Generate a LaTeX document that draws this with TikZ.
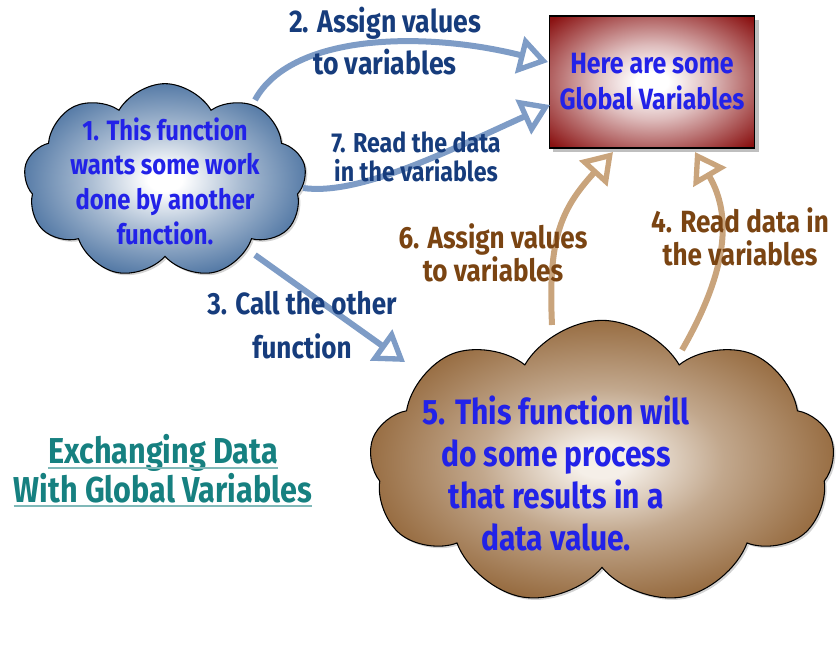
\documentclass[tikz,border=0pt]{standalone}
\usepackage{fontspec}
\setmainfont{Fira Sans}[FakeStretch=0.85]
\usetikzlibrary{shapes.symbols,arrows.meta,shadows}
\definecolor{txtblue}{HTML}{2222E8}
\definecolor{lblblue}{HTML}{163C7C}
\definecolor{lblbrown}{HTML}{7A4412}
\definecolor{lineblue}{HTML}{7E9CC6}
\definecolor{linetan}{HTML}{C9A47C}
\definecolor{cloudblue}{HTML}{3A6598}
\definecolor{cloudbrown}{HTML}{8A5A2A}
\definecolor{cloudcore}{HTML}{F5EFE8}
\definecolor{boxred}{HTML}{8A1212}
\definecolor{titleteal}{HTML}{168080}
\definecolor{ruleteal}{HTML}{7FB8B8}
\colorlet{boxmid}{boxred!28!white}
\colorlet{bluemid}{cloudblue!42!white}
\colorlet{brownmid}{cloudbrown!48!cloudcore}
% radial fills: light core, full colour near the outline (25bp = shape edge)
\pgfdeclareradialshading{boxshade}{\pgfpoint{0bp}{0bp}}{color(0bp)=(white); color(4bp)=(white); color(14bp)=(boxmid); color(34bp)=(boxred); color(50bp)=(boxred)}
\pgfdeclareradialshading{blueshade}{\pgfpoint{0bp}{0bp}}{color(0bp)=(white); color(3bp)=(white); color(13bp)=(bluemid); color(29bp)=(cloudblue); color(50bp)=(cloudblue)}
\pgfdeclareradialshading{brownshade}{\pgfpoint{0bp}{0bp}}{color(0bp)=(cloudcore); color(3bp)=(cloudcore); color(13bp)=(brownmid); color(29bp)=(cloudbrown); color(50bp)=(cloudbrown)}
\begin{document}
\begin{tikzpicture}[x=0.75pt,y=-0.75pt,
  puff/.style={cloud, cloud puffs=9, cloud puff arc=120, cloud ignores aspect,
    draw=black, line width=0.8pt, inner sep=0pt,
    drop shadow={shadow xshift=1.5pt, shadow yshift=-1.5pt, opacity=0.35}},
  flowblue/.style={draw=lineblue, line width=4.5pt,
    -{Triangle[open, length=22pt, width=28pt, line width=4pt]}},
  flowtan/.style={draw=linetan, line width=4.5pt,
    -{Triangle[open, length=22pt, width=28pt, line width=4pt]}},
  inner/.style={text=txtblue, align=center, font=\bfseries\fontsize{21}{26}\selectfont},
  lbl/.style={align=center, inner sep=0pt},
]
\useasboundingbox (0,0) rectangle (836,645);

% shapes
\node[puff, minimum width=212pt, minimum height=146pt, shading=blueshade] (caller) at (165,181) {};
\node[puff, minimum width=349pt, minimum height=214pt, shading=brownshade] (worker) at (602,463) {};
\node[draw=black, line width=0.8pt, minimum width=154pt, minimum height=99pt,
  shading=boxshade,
  drop shadow={shadow xshift=3pt, shadow yshift=-3pt, opacity=0.5}] (globals) at (652,82) {};

% anchor points on the shapes
\coordinate (c2) at (255,100);
\coordinate (c7) at (303,188);
\coordinate (c3) at (255,255);
\coordinate (g2) at (548,62);
\coordinate (g7) at (550,105);
\coordinate (g6) at (613,152);
\coordinate (g4) at (695,152);
\coordinate (w3) at (405,362);
\coordinate (w6) at (552,325);
\coordinate (w4) at (682,350);

% connectors
\draw[flowblue] (c2) .. controls (290,35) and (420,30) .. (g2);
\draw[flowblue] (c7) .. controls (360,196) and (450,150) .. (g7);
\draw[flowblue] (c3) -- (w3);
\draw[flowtan] (w6) .. controls (548,240) and (560,210) .. (g6);
\draw[flowtan] (w4) .. controls (728,270) and (732,215) .. (g4);

% texts inside the shapes
\node[inner] (callertext) at (caller.center) {1. This function\\wants some work\\done by another\\function.};
\node[inner, font=\bfseries\fontsize{22}{27}\selectfont] (globaltext) at (globals.center) {Here are some\\Global Variables};
\node[inner, font=\bfseries\fontsize{26.5}{31.5}\selectfont] (workertext) at (556,473) {5. This function will\\do some process\\that results in a\\data value.};

% connector labels
\node[lbl, text=lblblue, font=\bfseries\fontsize{23.5}{31.5}\selectfont] (l2) at (385,41) {2. Assign values\\to variables};
\node[lbl, text=lblblue, font=\bfseries\fontsize{20.5}{22}\selectfont] (l7) at (416,157) {7. Read the data\\in the variables};
\node[lbl, text=lblblue, font=\bfseries\fontsize{23}{33}\selectfont] (l3) at (302,325) {3. Call the other\\function};
\node[lbl, text=lblbrown, font=\bfseries\fontsize{23}{22.5}\selectfont] (l6) at (493,253) {6. Assign values\\to variables};
\node[lbl, text=lblbrown, font=\bfseries\fontsize{23}{25}\selectfont] (l4) at (740,237) {4. Read data in\\the variables};

% title
\node[anchor=base, inner sep=0pt, text=titleteal, font=\bfseries\fontsize{27}{28}\selectfont] (t1) at (163,464) {Exchanging Data};
\node[anchor=base, inner sep=0pt, text=titleteal, font=\bfseries\fontsize{27}{28}\selectfont] (t2) at (163,502) {With Global Variables};
\draw[ruleteal, line width=2.2pt] ([yshift=-3pt]t1.base west) -- ([yshift=-3pt]t1.base east);
\draw[ruleteal, line width=2.2pt] ([yshift=-3pt]t2.base west) -- ([yshift=-3pt]t2.base east);
\end{tikzpicture}
\end{document}
